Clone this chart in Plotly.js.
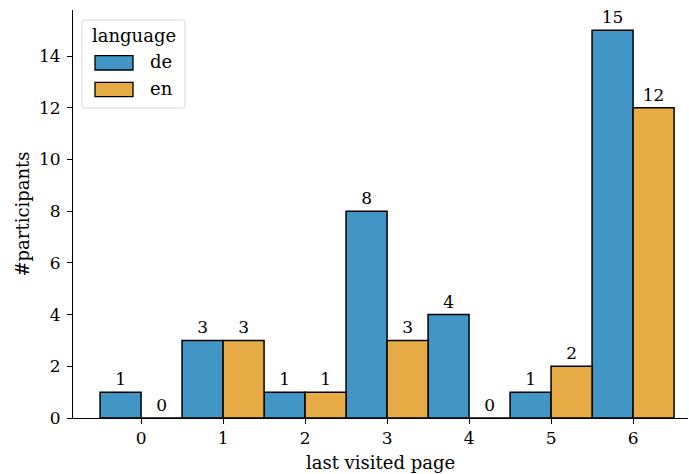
<!DOCTYPE html>
<html><head><meta charset="utf-8">
<script src="https://cdn.plot.ly/plotly-3.0.1.min.js"></script>
<style>body{margin:0;padding:0;background:#fff}#chart{width:689px;height:474px}</style>
</head><body><div id="chart"></div>
<script>
const pages = [0, 1, 2, 3, 4, 5, 6];
const deCounts = [1, 3, 1, 8, 4, 1, 15];
const enCounts = [0, 3, 1, 3, 0, 2, 12];
const seriesNames = ["de", "en"];
const seriesColors = ["#4196c6", "#e6ab44"];
const legendTitle = "language";
const font = "DejaVu Serif, serif";

const W = 689, H = 474, ML = 73, MR = 1, MT = 10, MB = 56;
const PW = W - ML - MR, PH = H - MT - MB;
const px = x => (x - ML) / PW;
const py = y => (H - MB - y) / PH;

function mk(name, vals, color) {
  return {
    type: "bar", name: name, x: pages, y: vals,
    marker: {color: color, line: {color: "#000", width: 1.5}},
    text: vals.map(String), textposition: "outside", cliponaxis: false,
    textfont: {family: font, size: 17, color: "#000"},
    hoverinfo: "x+y", showlegend: false
  };
}
const data = [mk(seriesNames[0], deCounts, seriesColors[0]), mk(seriesNames[1], enCounts, seriesColors[1])];

function roundRect(x0, y0, x1, y1, r) {
  const P = (x, y) => px(x) + "," + py(y);
  return "M" + P(x0 + r, y0) + " L" + P(x1 - r, y0) + " Q" + P(x1, y0) + " " + P(x1, y0 + r) +
    " L" + P(x1, y1 - r) + " Q" + P(x1, y1) + " " + P(x1 - r, y1) +
    " L" + P(x0 + r, y1) + " Q" + P(x0, y1) + " " + P(x0, y1 - r) +
    " L" + P(x0, y0 + r) + " Q" + P(x0, y0) + " " + P(x0 + r, y0) + " Z";
}
const shapes = [
  {type: "path", xref: "paper", yref: "paper", path: roundRect(82, 20, 185, 108, 3),
   fillcolor: "rgba(255,255,255,0.85)", line: {color: "#d6d6d6", width: 1}},
];
const annotations = [
  {xref: "paper", yref: "paper", x: px(133.5), y: py(35), text: legendTitle, showarrow: false,
   xanchor: "center", yanchor: "middle", font: {family: font, size: 18, color: "#000"}}
];
const patchY = [[55.7, 70], [82.3, 96.7]];
seriesNames.forEach((n, i) => {
  shapes.push({type: "rect", xref: "paper", yref: "paper", x0: px(95), x1: px(133),
    y0: py(patchY[i][0]), y1: py(patchY[i][1]), fillcolor: seriesColors[i], line: {color: "#000", width: 1.3}});
  annotations.push({xref: "paper", yref: "paper", x: px(148), y: py((patchY[i][0] + patchY[i][1]) / 2 - 1),
    text: n, showarrow: false, xanchor: "left", yanchor: "middle", font: {family: font, size: 18, color: "#000"}});
});

const layout = {
  width: W, height: H,
  margin: {l: ML, r: MR, t: MT, b: MB},
  barmode: "group", bargap: 0, bargroupgap: 0,
  paper_bgcolor: "#fff", plot_bgcolor: "#fff",
  font: {family: font, size: 17, color: "#000"},
  xaxis: {
    range: [-0.83, 6.67], tickvals: pages, ticktext: pages.map(String),
    showgrid: false, zeroline: false, showline: true, linecolor: "#000", linewidth: 1,
    ticks: "outside", ticklen: 5, tickcolor: "#000", tickfont: {family: font, size: 17},
    title: {text: "last visited page", font: {family: font, size: 18}, standoff: 8}
  },
  yaxis: {
    range: [0, 15.78], tickvals: [0, 2, 4, 6, 8, 10, 12, 14],
    showgrid: false, zeroline: false, showline: true, linecolor: "#000", linewidth: 1,
    ticks: "outside", ticklen: 5, tickcolor: "#000", tickfont: {family: font, size: 17},
    ticklabelstandoff: 3,
    title: {text: "#participants", font: {family: font, size: 18}, standoff: 4}
  },
  showlegend: false,
  shapes: shapes,
  annotations: annotations
};
Plotly.newPlot("chart", data, layout, {displayModeBar: false, staticPlot: true});
</script></body></html>
